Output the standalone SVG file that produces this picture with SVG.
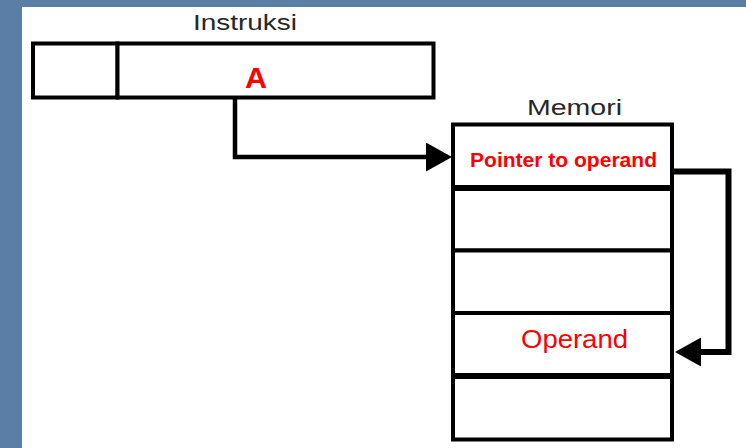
<svg xmlns="http://www.w3.org/2000/svg" width="746" height="448" viewBox="0 0 746 448">
  <style>
    .box { fill: #ffffff; stroke: #000000; stroke-width: 4; }
    .sep { stroke: #000000; fill: none; }
    .title { font-family: "Liberation Sans", Arial, sans-serif; fill: #262626; font-size: 22px; }
    .red { font-family: "Liberation Sans", Arial, sans-serif; fill: #ff0000; }
    .conn { fill: none; stroke: #000000; stroke-linejoin: miter; }
  </style>
  <defs>
    <marker id="head" markerUnits="userSpaceOnUse" markerWidth="27" markerHeight="30" refX="20" refY="14.5" orient="auto">
      <path d="M0,0 L26,14.5 L0,29 z" fill="#000000"/>
    </marker>
  </defs>

  <rect x="0" y="0" width="746" height="448" fill="#5b7ea7"/>
  <rect x="22" y="7" width="724" height="441" fill="#ffffff"/>

  <g id="instruksi">
    <text class="title" x="193" y="30" textLength="104" lengthAdjust="spacingAndGlyphs">Instruksi</text>
    <g id="instr-opcode">
      <rect class="box" x="33" y="43.5" width="84.5" height="54"/>
    </g>
    <g id="instr-address">
      <rect class="box" x="117.5" y="43.5" width="316" height="54"/>
      <text class="red" x="245" y="88" font-size="30" font-weight="bold" textLength="22" lengthAdjust="spacingAndGlyphs">A</text>
    </g>
  </g>

  <g id="memori">
    <text class="title" x="527" y="115" textLength="95" lengthAdjust="spacingAndGlyphs">Memori</text>
    <g id="mem-cell-1">
      <rect class="box" x="453" y="124.5" width="219" height="63.5"/>
      <text class="red" x="470" y="166.5" font-size="21" font-weight="bold" textLength="187" lengthAdjust="spacingAndGlyphs">Pointer to operand</text>
    </g>
    <g id="mem-cell-2">
      <rect class="box" x="453" y="188" width="219" height="62.5"/>
    </g>
    <g id="mem-cell-3">
      <rect class="box" x="453" y="250.5" width="219" height="62.5"/>
    </g>
    <g id="mem-cell-4">
      <rect class="box" x="453" y="313" width="219" height="63"/>
      <text class="red" x="521" y="348" font-size="25" textLength="107" lengthAdjust="spacingAndGlyphs">Operand</text>
    </g>
    <g id="mem-cell-5">
      <rect class="box" x="453" y="376" width="219" height="63.5"/>
    </g>
    <line class="sep" x1="453" y1="188" x2="672" y2="188" stroke-width="6"/>
    <line class="sep" x1="453" y1="376" x2="672" y2="376" stroke-width="6"/>
  </g>

  <g id="connectors">
    <path class="conn" stroke-width="4.5" d="M235,97.5 V157 H446" marker-end="url(#head)"/>
    <path class="conn" stroke-width="6" d="M674,171.5 H728.5 V352 H681" marker-end="url(#head)"/>
  </g>
</svg>
